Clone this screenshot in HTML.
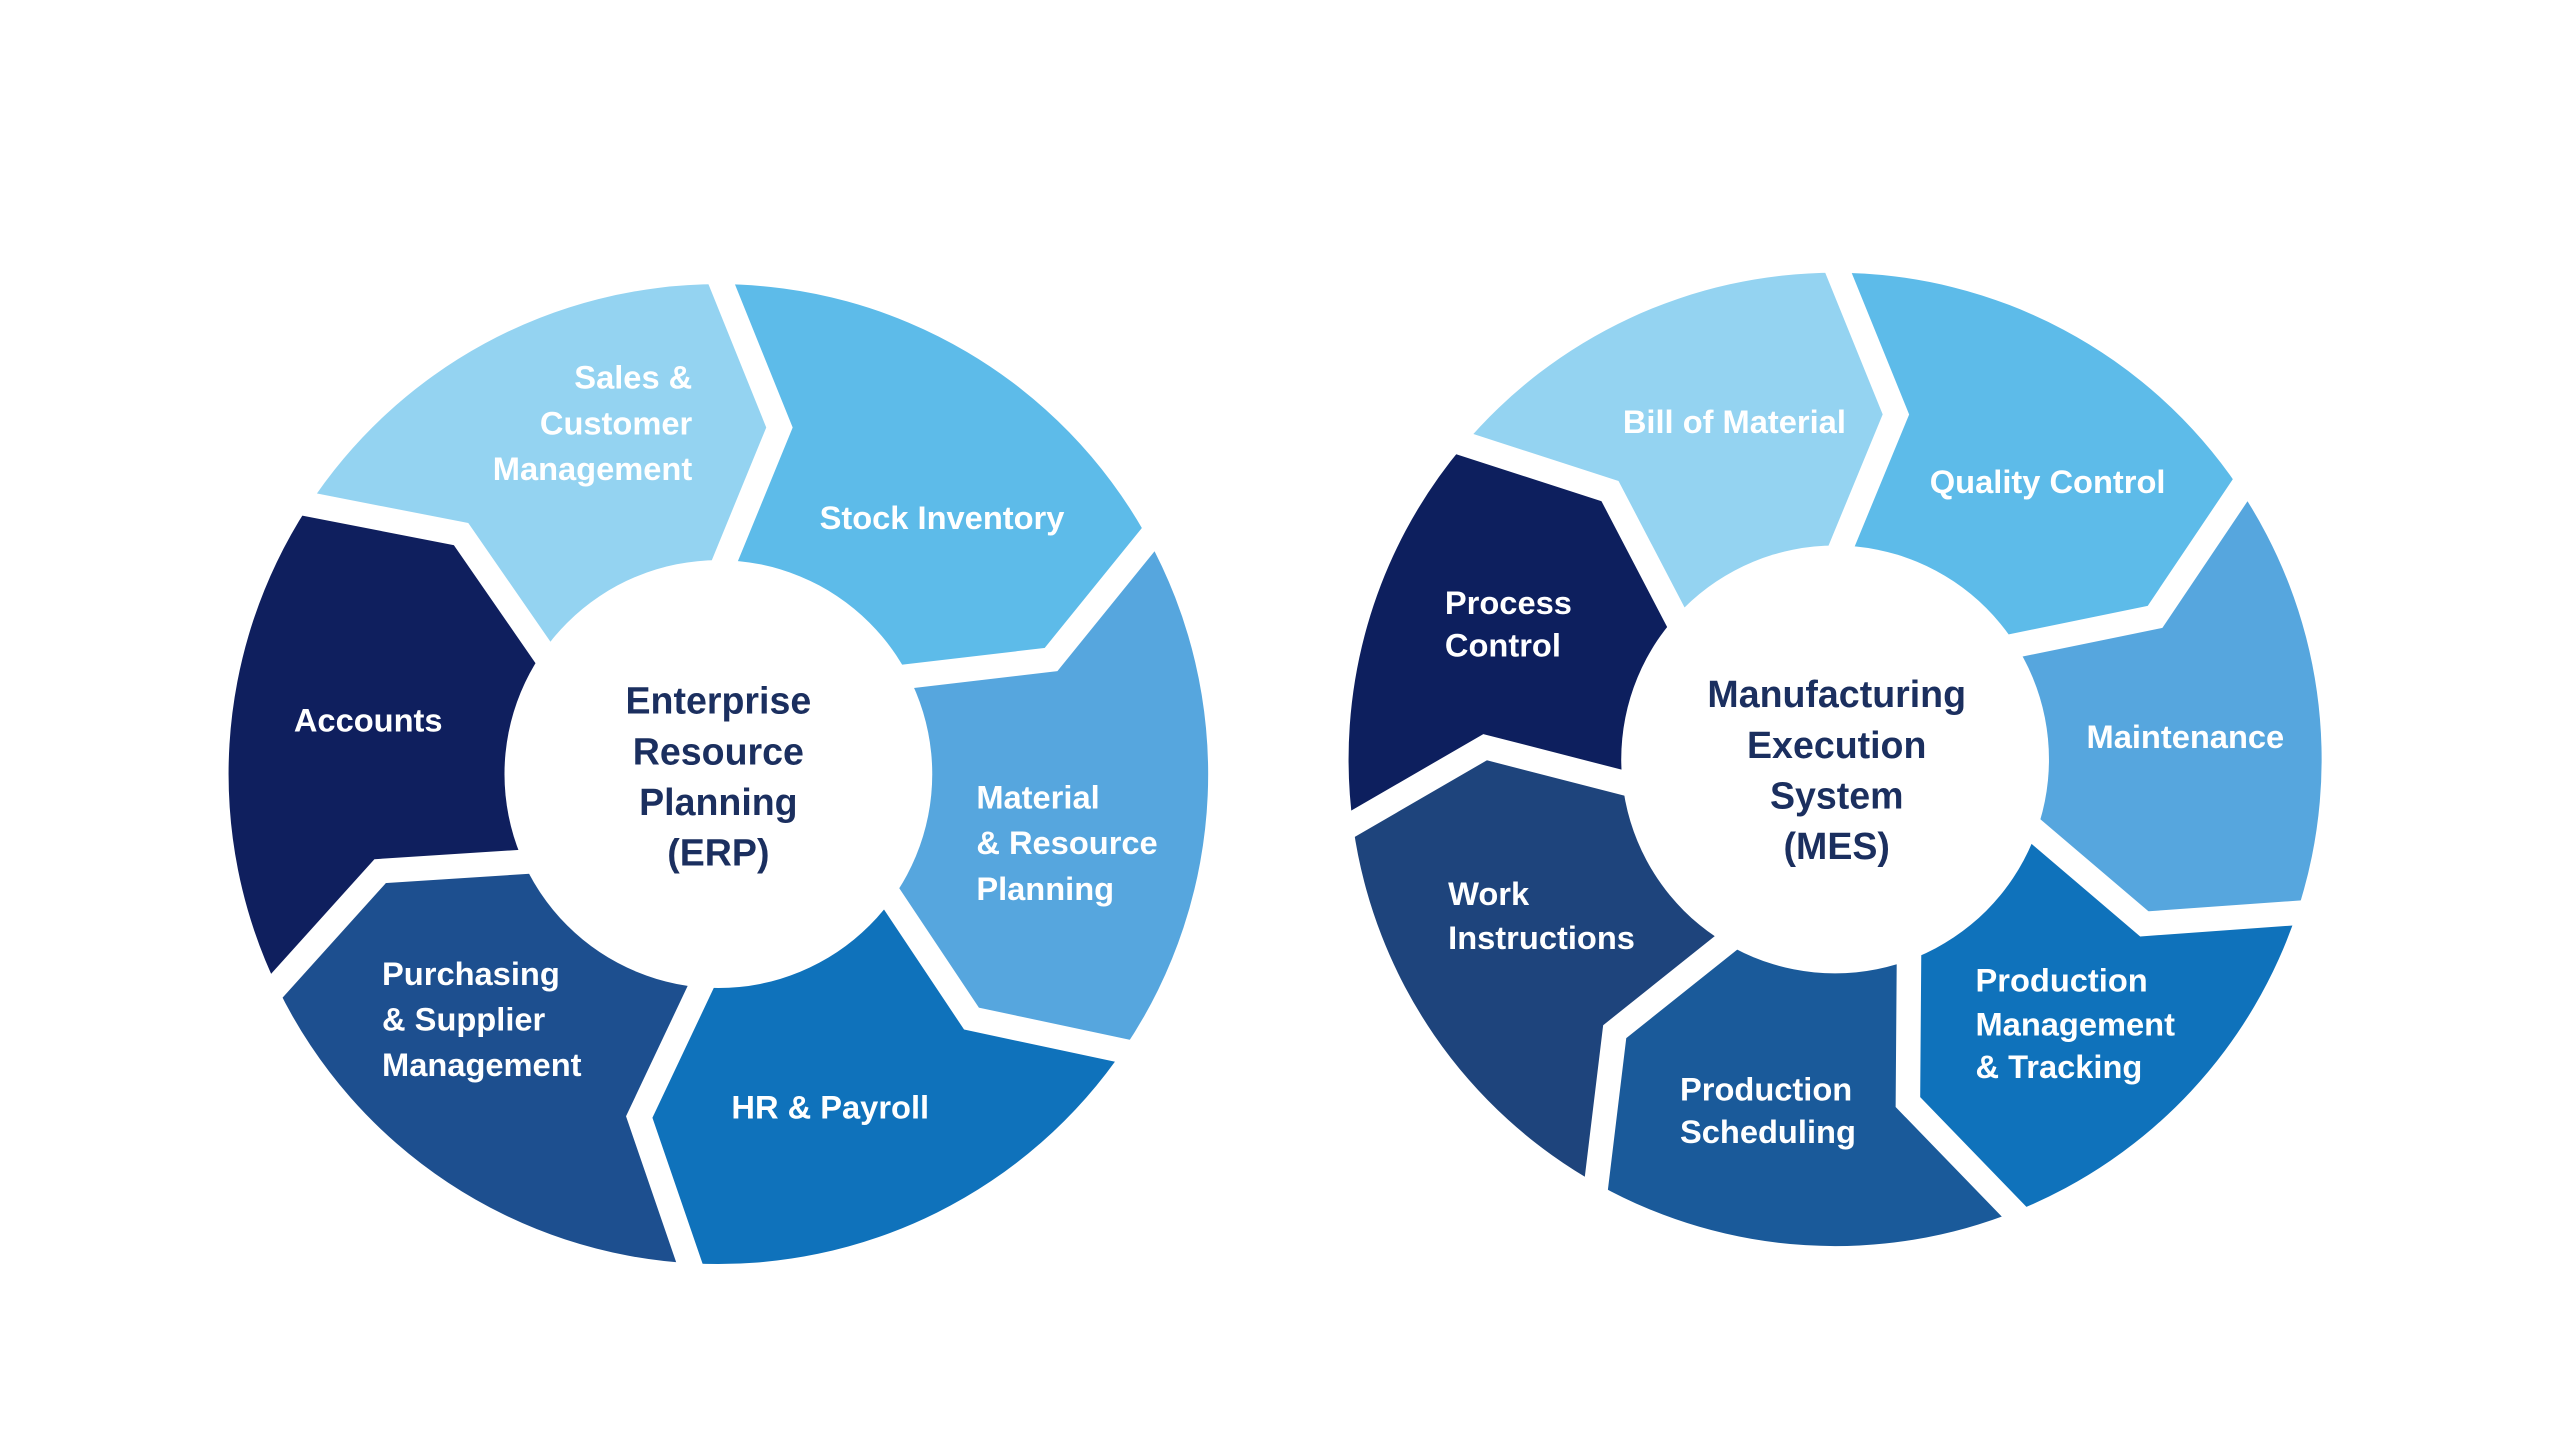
<!DOCTYPE html>
<html><head><meta charset="utf-8"><style>
html,body{margin:0;padding:0;background:#fff;}
svg{display:block;}
text{font-family:"Liberation Sans",sans-serif;font-weight:bold;fill:#fff;font-size:20px;}
.c{fill:#1b2f5f;font-size:23px;text-anchor:middle;}
</style></head><body>
<svg id="s" width="2560" height="1429" viewBox="0 0 1568 875" preserveAspectRatio="none" xmlns="http://www.w3.org/2000/svg">
<g id="segs"></g>
<circle cx="440" cy="474" r="131" fill="#fff"/>
<circle cx="1124" cy="465" r="131" fill="#fff"/>
<text x="424" y="238" text-anchor="end">Sales &amp;</text>
<text x="424" y="266" text-anchor="end">Customer</text>
<text x="424" y="294" text-anchor="end">Management</text>
<text x="502" y="324">Stock Inventory</text>
<text x="598" y="495">Material</text>
<text x="598" y="523">&amp; Resource</text>
<text x="598" y="551">Planning</text>
<text x="448" y="685">HR &amp; Payroll</text>
<text x="234" y="603">Purchasing</text>
<text x="234" y="631">&amp; Supplier</text>
<text x="234" y="659">Management</text>
<text x="180" y="448">Accounts</text>
<text class="c" x="440" y="437">Enterprise</text>
<text class="c" x="440" y="468">Resource</text>
<text class="c" x="440" y="499">Planning</text>
<text class="c" x="440" y="530">(ERP)</text>
<text x="994" y="265">Bill of Material</text>
<text x="1182" y="302">Quality Control</text>
<text x="1278" y="458">Maintenance</text>
<text x="1210" y="607">Production</text>
<text x="1210" y="634">Management</text>
<text x="1210" y="660">&amp; Tracking</text>
<text x="1029" y="674">Production</text>
<text x="1029" y="700">Scheduling</text>
<text x="887" y="554">Work</text>
<text x="887" y="581">Instructions</text>
<text x="885" y="376">Process</text>
<text x="885" y="402">Control</text>
<text class="c" x="1125" y="433">Manufacturing</text>
<text class="c" x="1125" y="464">Execution</text>
<text class="c" x="1125" y="495">System</text>
<text class="c" x="1125" y="526">(MES)</text>
</svg>
<script>
function P(cx,cy,r,a){a=(a-90)*Math.PI/180;return [cx+r*Math.cos(a),cy+r*Math.sin(a)];}
function wheel(cx,cy,R,r,b,cols){
 var g=document.getElementById('segs'),out='',n=b.length,d=10,rm=(R+r)/2;
 for(var i=0;i<n;i++){
  var a1=b[i],a2=(i+1<n)?b[i+1]:b[0]+360;
  var o1=P(cx,cy,R,a1),o2=P(cx,cy,R,a2),m2=P(cx,cy,rm,a2+d),i2=P(cx,cy,r-5,a2),i1=P(cx,cy,r-5,a1),m1=P(cx,cy,rm,a1+d);
  var lg=(a2-a1)>180?1:0;
  out+='<path fill="'+cols[i]+'" d="M'+o1+' A'+R+' '+R+' 0 '+lg+' 1 '+o2+' L'+m2+' L'+i2+' A'+(r-5)+' '+(r-5)+' 0 '+lg+' 0 '+i1+' L'+m1+' Z"/>';
 }
 for(var i=0;i<n;i++){
  var o=P(cx,cy,R+5,b[i]),m=P(cx,cy,rm,b[i]+d),ii=P(cx,cy,r-10,b[i]);
  out+='<polyline fill="none" stroke="#fff" stroke-width="15" stroke-linejoin="miter" points="'+o+' '+m+' '+ii+'"/>';
 }
 g.innerHTML+=out;
}
wheel(440,474,300,131,[0,61,124,183,244,303],["#5dbbe9","#56a6de","#0f72bb","#1d4f8f","#0f1f5e","#94d3f1"]);
wheel(1124,465,298,131,[0,56,108,158,209,262,310],["#5dbbe9","#56a6de","#0f72bb","#1a5a9a","#1e447c","#0d1f5e","#94d3f1"]);
</script>
</body></html>
